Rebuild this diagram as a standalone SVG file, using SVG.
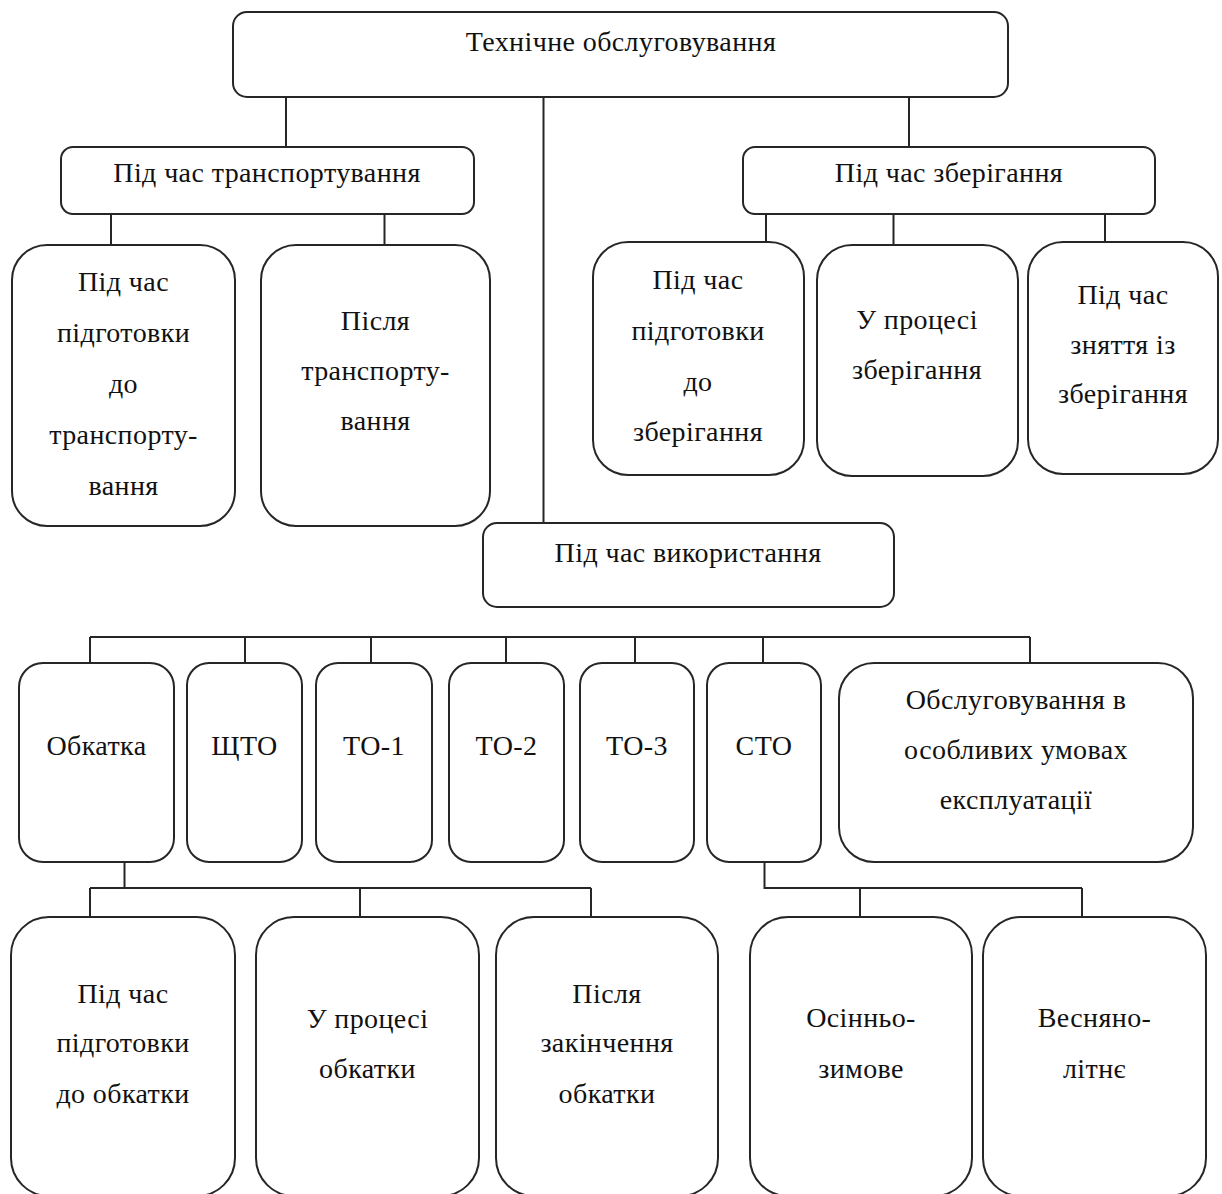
<svg xmlns="http://www.w3.org/2000/svg" width="1222" height="1194" viewBox="0 0 1222 1194">
<style>
.n rect{fill:#fff;stroke:#262626;stroke-width:2}
.n text{font-family:"Liberation Serif","Times New Roman",serif;font-size:28px;letter-spacing:0.4px;fill:#111;text-anchor:middle}
.c path{fill:none;stroke:#262626;stroke-width:2}
</style>
<rect width="1222" height="1194" fill="#fff"/>
<g class="c" id="connectors">
<path d="M286 97V147M543.5 97V523M909 97V147"/>
<path d="M111 214V245M384.5 214V245"/>
<path d="M766 214V242M893.5 214V245M1105 214V242"/>
<path d="M90 637H1030M90 637V663M245 637V663M371 637V663M506 637V663M635 637V663M763 637V663M1030 637V663"/>
<path d="M124.5 862V888M90 888H591M90 888V917M360 888V917M591 888V917"/>
<path d="M764.5 862V888H1082M860 888V917M1082 888V917"/>
</g>
<g class="n" id="root"><rect x="233" y="12" width="775" height="85" rx="14"/><text x="621" y="51">Технічне обслуговування</text></g>
<g class="n" id="transport"><rect x="61" y="147" width="413" height="67" rx="12"/><text x="267" y="182">Під час транспортування</text></g>
<g class="n" id="storage"><rect x="743" y="147" width="412" height="67" rx="12"/><text x="949" y="182">Під час зберігання</text></g>
<g class="n" id="t1"><rect x="12" y="245" width="223" height="281" rx="35"/><text x="123.5" y="291">Під час</text><text x="123.5" y="342">підготовки</text><text x="123.5" y="393">до</text><text x="123.5" y="444">транспорту-</text><text x="123.5" y="495">вання</text></g>
<g class="n" id="t2"><rect x="261" y="245" width="229" height="281" rx="35"/><text x="375.5" y="330">Після</text><text x="375.5" y="380">транспорту-</text><text x="375.5" y="430">вання</text></g>
<g class="n" id="s1"><rect x="593" y="242" width="211" height="233" rx="35"/><text x="698" y="289">Під час</text><text x="698" y="340">підготовки</text><text x="698" y="391">до</text><text x="698" y="441">зберігання</text></g>
<g class="n" id="s2"><rect x="817" y="245" width="201" height="231" rx="35"/><text x="917" y="329">У процесі</text><text x="917" y="379">зберігання</text></g>
<g class="n" id="s3"><rect x="1028" y="242" width="190" height="232" rx="35"/><text x="1123" y="304">Під час</text><text x="1123" y="354">зняття із</text><text x="1123" y="403">зберігання</text></g>
<g class="n" id="use"><rect x="483" y="523" width="411" height="84" rx="14"/><text x="688" y="562">Під час використання</text></g>
<g class="n" id="obkatka"><rect x="19" y="663" width="155" height="199" rx="24"/><text x="96.5" y="755">Обкатка</text></g>
<g class="n" id="shto"><rect x="187" y="663" width="115" height="199" rx="22"/><text x="244.5" y="755">ЩТО</text></g>
<g class="n" id="to1"><rect x="316" y="663" width="116" height="199" rx="22"/><text x="374" y="755">ТО-1</text></g>
<g class="n" id="to2"><rect x="449" y="663" width="115" height="199" rx="22"/><text x="506.5" y="755">ТО-2</text></g>
<g class="n" id="to3"><rect x="580" y="663" width="114" height="199" rx="22"/><text x="637" y="755">ТО-3</text></g>
<g class="n" id="sto"><rect x="707" y="663" width="114" height="199" rx="22"/><text x="764" y="755">СТО</text></g>
<g class="n" id="special"><rect x="839" y="663" width="354" height="199" rx="35"/><text x="1016" y="709">Обслуговування в</text><text x="1016" y="759">особливих умовах</text><text x="1016" y="809">експлуатації</text></g>
<g class="n" id="b1"><rect x="11" y="917" width="224" height="279" rx="38"/><text x="123" y="1003">Під час</text><text x="123" y="1052">підготовки</text><text x="123" y="1103">до обкатки</text></g>
<g class="n" id="b2"><rect x="256" y="917" width="223" height="279" rx="38"/><text x="367.5" y="1028">У процесі</text><text x="367.5" y="1078">обкатки</text></g>
<g class="n" id="b3"><rect x="496" y="917" width="222" height="279" rx="38"/><text x="607" y="1003">Після</text><text x="607" y="1052">закінчення</text><text x="607" y="1103">обкатки</text></g>
<g class="n" id="b4"><rect x="750" y="917" width="222" height="279" rx="38"/><text x="861" y="1027">Осінньо-</text><text x="861" y="1078">зимове</text></g>
<g class="n" id="b5"><rect x="983" y="917" width="223" height="279" rx="38"/><text x="1094.5" y="1027">Весняно-</text><text x="1094.5" y="1078">літнє</text></g>
</svg>
